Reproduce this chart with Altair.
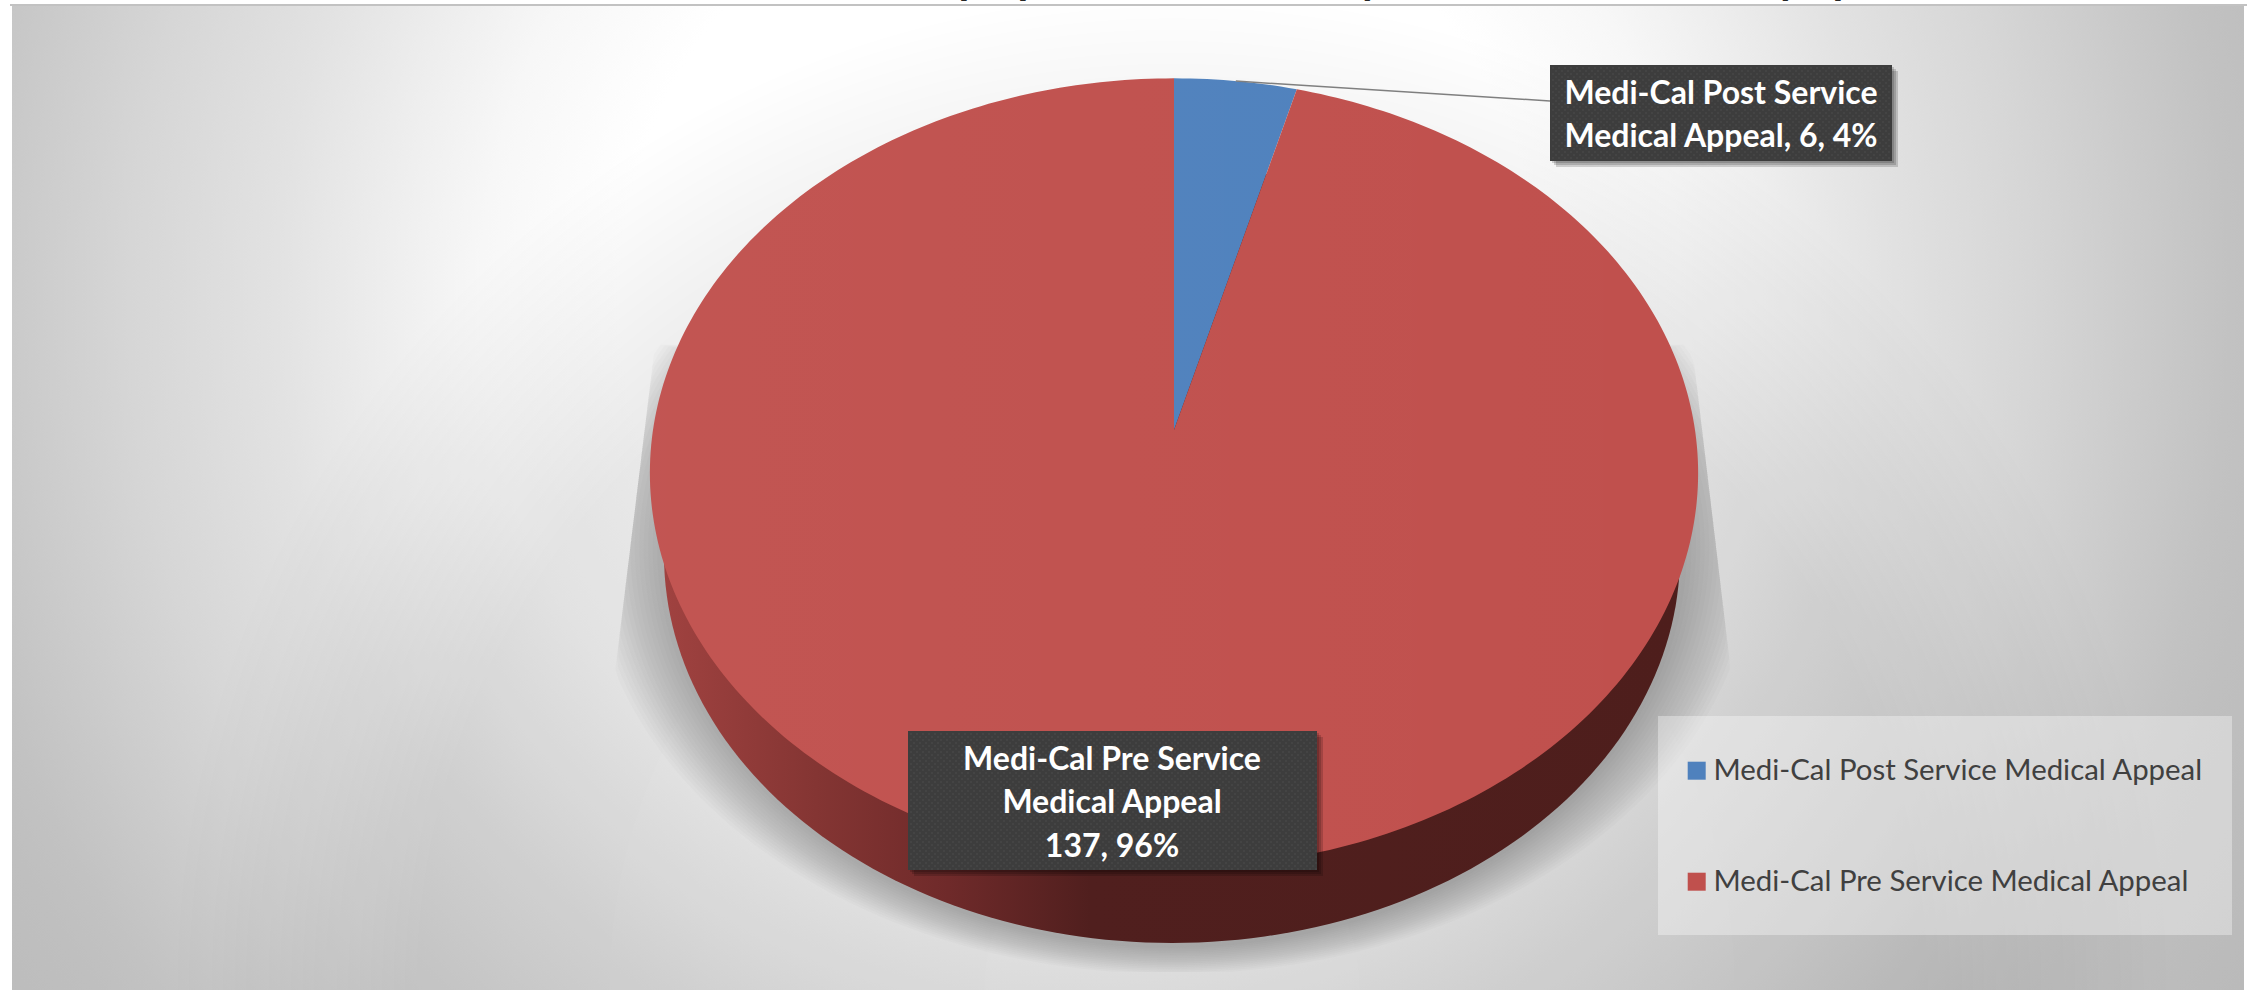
import math
import altair as alt
import pandas as pd

# Appeal counts by category
categories = ["Medi-Cal Post Service Medical Appeal", "Medi-Cal Pre Service Medical Appeal"]
counts = [6, 137]
slice_colors = ["#4f81bd", "#c0504d"]
label_lines = [["Medi-Cal Post Service", "Medical Appeal, {n}, {p}%"],
               ["Medi-Cal Pre Service", "Medical Appeal", "{n}, {p}%"]]

W, H = 2247, 990
X = alt.Scale(domain=[0, W], range=[0, W])
Y = alt.Scale(domain=[0, H], range=[0, H])

# Tilted-disc projection for the pie face
CX, CY, AX, BY, K = 1174, 430, 521, 390, 0.109


def project(turn):
    a = 2 * math.pi * turn
    u, v = math.sin(a), math.cos(a)
    d = 1 + K * v
    return CX + AX * u / d, CY - BY * v / d


def ellipse(cx, cy, rx, ry, n=240):
    return [(cx + rx * math.cos(2 * math.pi * i / n), cy + ry * math.sin(2 * math.pi * i / n))
            for i in range(n + 1)]


def path_frame(points, **extra):
    return pd.DataFrame([{"x": x, "y": y, "i": i, **extra} for i, (x, y) in enumerate(points)])


def polygon(frame, **mark):
    return alt.Chart(frame).mark_line(strokeWidth=0, strokeOpacity=0, **mark).encode(
        x=alt.X("x:Q", scale=X, axis=None),
        y=alt.Y("y:Q", scale=Y, axis=None),
        order="i:Q",
    )


def boxes(rows, **mark):
    return alt.Chart(pd.DataFrame(rows)).mark_rect(**mark).encode(
        x=alt.X("x:Q", scale=X, axis=None), x2="x2:Q",
        y=alt.Y("y:Q", scale=Y, axis=None), y2="y2:Q",
    )


def stops(*pairs):
    return [alt.GradientStop(offset=o, color=c) for o, c in pairs]


total = sum(counts)

# Panel background: a round wash plus a faint darkening around the bottom centre.
# The squares run past the page; white strips trim them to the panel.
R = 1350
glow_cx, glow_cy = 1080, 300
background = boxes([{"x": glow_cx - R, "x2": glow_cx + R, "y": glow_cy - R, "y2": glow_cy + R}],
                   color=alt.Gradient(
                       gradient="radial", x1=0.5, y1=0.5, r1=0.0, x2=0.5, y2=0.5, r2=0.5,
                       stops=stops((0, "#ffffff"), (0.34, "#ffffff"), (0.444, "#f7f7f7"), (0.519, "#ededed"),
                                   (0.596, "#e2e2e2"), (0.704, "#d6d6d6"),
                                   (0.807, "#c8c8c8"), (0.852, "#c2c2c2"), (0.889, "#bfbfbf"), (1, "#bababa"))))
bottom_wash = boxes([{"x": 172, "x2": 2172, "y": -10, "y2": 1990}], color=alt.Gradient(
    gradient="radial", x1=0.5, y1=0.5, r1=0.0, x2=0.5, y2=0.5, r2=0.5,
    stops=stops((0, "rgba(0,0,0,0.08)"), (0.75, "rgba(0,0,0,0.085)"), (1, "rgba(0,0,0,0)"))))
page_strips = boxes([{"x": 0, "x2": W, "y": -10, "y2": 4},
                     {"x": 0, "x2": 12, "y": 0, "y2": H},
                     {"x": 2244, "x2": W, "y": 0, "y2": H}], color="#ffffff")
top_edge = boxes([{"x": 10, "x2": W, "y": 4, "y2": 6}], color="#c2c2c2")

# Descenders of a heading trimmed by the page's top edge
heading_bits = pd.DataFrame({"t": list("ppyyp"), "x": [971, 1030, 1371, 1789, 1845], "y": [-6] * 5})
heading_layer = alt.Chart(heading_bits).mark_text(
    font="Lato", fontWeight="bold", fontSize=44, color="#262626", baseline="alphabetic", align="center"
).encode(x=alt.X("x:Q", scale=X, axis=None), y=alt.Y("y:Q", scale=Y, axis=None), text="t:N")

# Soft floor shadow: stacked translucent ellipses clipped to a trapezoid
SH_TOP, SH_BOTTOM = 344, 972


def clip_shadow(x, y):
    y = min(y, SH_BOTTOM)
    left = 655 - 43 * (y - 344) / (696 - 344)
    right = 1692 + 43 * (y - 344) / (705 - 344)
    return max(left, min(x, right)), y


shadow_rows = []
for ring in range(16):
    grow = ring / 15
    pts = ellipse(1172, 548, 515 + 67 * grow, 400 + 26 * grow)
    pts = [clip_shadow(x, y) for x, y in pts if y > SH_TOP]
    shadow_rows.append(path_frame(pts, ring=ring))
shadow = alt.Chart(pd.concat(shadow_rows)).mark_line(
    strokeWidth=0, strokeOpacity=0, fill="#000000", fillOpacity=0.015
).encode(
    x=alt.X("x:Q", scale=X, axis=None), y=alt.Y("y:Q", scale=Y, axis=None),
    order="i:Q", detail="ring:N",
)

# Pie wall
wall = polygon(path_frame(ellipse(1172, 555, 508, 388)), fill=alt.Gradient(
    gradient="linear", x1=0, y1=0, x2=1, y2=0,
    stops=stops((0, "#a04240"), (0.15, "#843533"), (0.28, "#6f2a2a"), (0.42, "#501f1e"), (1, "#4e1e1c"))))

# Pie face, one polygon per slice, swept clockwise from twelve o'clock
face_rows, turn = [], 0.0
for name, n in zip(categories, counts):
    share = n / total
    steps = max(4, int(share * 360))
    pts = [(CX, CY)] + [project(turn + share * s / steps) for s in range(steps + 1)] + [(CX, CY)]
    face_rows.append(path_frame(pts, category=name))
    turn += share
faces = alt.Chart(pd.concat(face_rows)).mark_line(strokeWidth=0, strokeOpacity=0).encode(
    x=alt.X("x:Q", scale=X, axis=None),
    y=alt.Y("y:Q", scale=Y, axis=None),
    order="i:Q",
    fill=alt.Fill("category:N", scale=alt.Scale(domain=categories, range=slice_colors), legend=alt.Legend(
        title=None, orient="none", legendX=1682, legendY=756, padding=0, symbolType="square",
        symbolSize=324, symbolStrokeWidth=0, symbolOpacity=1, labelFont="Lato", labelFontSize=29.4,
        labelColor="#404040", labelOffset=2, labelLimit=700, rowPadding=80)),
)

# Faint sheen across the face, brighter toward the left
sheen = polygon(path_frame([project(s / 240) for s in range(241)]), fill=alt.Gradient(
    gradient="linear", x1=0, y1=0, x2=1, y2=0,
    stops=stops((0, "rgba(255,255,255,0.03)"), (1, "rgba(255,255,255,0)"))))

# Leader line from the small slice's rim to its label
lx, ly = project(counts[0] / total / 2)
leader = alt.Chart(pd.DataFrame({"x": [lx, 1550], "y": [ly, 101], "i": [0, 1]})).mark_line(
    color="#7f7f7f", strokeWidth=1.5
).encode(x=alt.X("x:Q", scale=X, axis=None), y=alt.Y("y:Q", scale=Y, axis=None), order="i:Q")

legend_box = boxes([{"x": 1658, "x2": 2232, "y": 716, "y2": 935}], color="#ffffff", opacity=0.35)

# Data label plates
plates = [{"x": 1550, "x2": 1892, "y": 65, "y2": 161}, {"x": 908, "x2": 1317, "y": 731, "y2": 870}]
plate_shadow = [boxes([{k: (v + off) for k, v in p.items()} for p in plates], color="#000000", opacity=0.16)
                for off in (2, 4, 6)]
plate_layer = boxes(plates, color="#3d3d3d")

dots = []
for p in plates:
    for r, yy in enumerate(range(int(p["y"]) + 3, int(p["y2"]), 3)):
        for xx in range(int(p["x"]) + 3 + (r % 2) * 3, int(p["x2"]), 6):
            dots.append({"x": xx, "y": yy})
dot_layer = alt.Chart(pd.DataFrame(dots)).mark_point(
    shape="square", size=1.5, filled=True, color="#565656", opacity=1
).encode(x=alt.X("x:Q", scale=X, axis=None), y=alt.Y("y:Q", scale=Y, axis=None))

text_rows = []
for lines, n, cx, first in zip(label_lines, counts, (1721, 1112), (93.5, 759.5)):
    pct = round(100 * n / total)
    for j, line in enumerate(lines):
        text_rows.append({"t": line.format(n=n, p=pct), "x": cx, "y": first + j * 43.5})
label_text = alt.Chart(pd.DataFrame(text_rows)).mark_text(
    font="Lato", fontWeight="bold", fontSize=32, color="#ffffff", align="center", baseline="middle"
).encode(x=alt.X("x:Q", scale=X, axis=None), y=alt.Y("y:Q", scale=Y, axis=None), text="t:N")

chart = alt.layer(
    background, bottom_wash, page_strips, top_edge, heading_layer, shadow, wall, faces, sheen, leader,
    legend_box, *plate_shadow, plate_layer, dot_layer, label_text,
).properties(
    width=W, height=H, padding=0, autosize=alt.AutoSizeParams(type="none"), background="#ffffff"
).configure_view(stroke=None)

chart.save("out.html", embed_options={"renderer": "svg", "actions": False})
